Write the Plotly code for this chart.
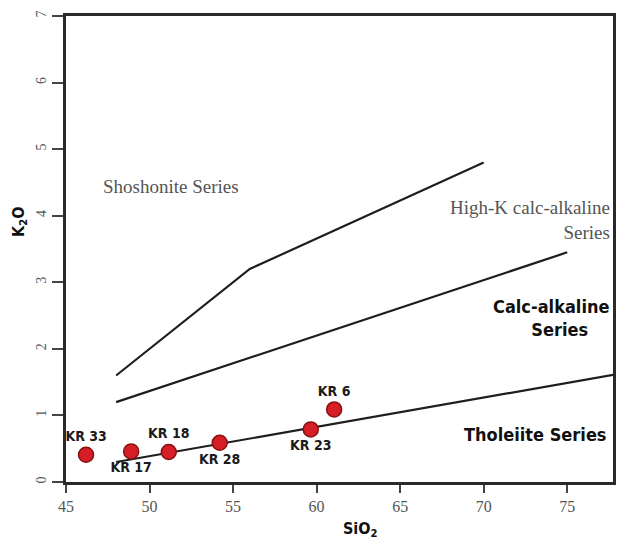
import plotly.graph_objects as go

# Sample analyses (SiO2 vs K2O, wt%)
sample_names = ["KR 33", "KR 17", "KR 18", "KR 28", "KR 23", "KR 6"]
sio2 = [46.2, 48.9, 51.15, 54.2, 59.65, 61.05]
k2o = [0.41, 0.46, 0.45, 0.59, 0.79, 1.09]
label_side = ["top center", "bottom center", "top center", "bottom center", "bottom center", "top center"]

# Series boundary lines
sho_x = [48, 56, 70]
sho_y = [1.6, 3.2, 4.8]
hkca_x = [48, 75]
hkca_y = [1.2, 3.45]
thol_x = [48, 78]
thol_y = [0.3, 1.62]

x_ticks = [45, 50, 55, 60, 65, 70, 75]
y_ticks = [0, 1, 2, 3, 4, 5, 6, 7]

bold_font = "DejaVu Sans Condensed, Liberation Sans Narrow, Arial Narrow, sans-serif"
serif_font = "Liberation Serif, Times New Roman, serif"

fig = go.Figure()
for bx, by in [(sho_x, sho_y), (hkca_x, hkca_y), (thol_x, thol_y)]:
    fig.add_trace(go.Scatter(x=bx, y=by, mode="lines",
                             line=dict(color="#1e1e1e", width=2.2),
                             hoverinfo="skip", showlegend=False))

fig.add_trace(go.Scatter(
    x=sio2, y=k2o, mode="markers+text", text=sample_names,
    textposition=label_side,
    textfont=dict(family=bold_font, size=14, color="#1a1a1a", weight="bold"),
    marker=dict(size=15, color="#d61e26", line=dict(color="#8a1010", width=1.5)),
    showlegend=False, cliponaxis=False))

annotations = [
    dict(x=51.3, y=4.44, text="Shoshonite Series", xanchor="center",
         font=dict(family=serif_font, size=19, color="#555555")),
    dict(x=77.7, y=3.94, text="High-K calc-alkaline<br>Series", xanchor="right",
         align="right", font=dict(family=serif_font, size=19, color="#555555")),
    dict(x=74.0, y=2.46, text="<b>Calc-alkaline</b><br><b>   Series</b>", xanchor="center",
         align="center", font=dict(family=bold_font, size=18, color="#111111")),
    dict(x=73.1, y=0.72, text="<b>Tholeiite Series</b>", xanchor="center",
         font=dict(family=bold_font, size=18, color="#111111")),
    dict(x=62.6, y=-0.102, yref="paper", yanchor="middle",
         text="<b>SiO<sub>2</sub></b>", xanchor="center",
         font=dict(family=bold_font, size=16, color="#111111")),
    dict(x=-0.085, xref="paper", y=3.9, text="<b>K<sub>2</sub>O</b>", textangle=-90,
         xanchor="center", font=dict(family=bold_font, size=16, color="#111111")),
]
for a in annotations:
    a.setdefault("showarrow", False)
    a.setdefault("xref", "x")
    a.setdefault("yref", "y")
fig.update_layout(annotations=annotations)

fig.update_xaxes(range=[45, 77.74], tickvals=x_ticks, ticks="outside", ticklen=8,
                 tickwidth=1.5, tickcolor="#444", showline=True, linewidth=3,
                 linecolor="#2a2a2a", mirror=True, showgrid=False, zeroline=False,
                 tickfont=dict(family=serif_font, size=16, color="#555555"))
fig.update_yaxes(range=[0, 7], tickvals=y_ticks, ticks="outside", ticklen=11,
                 tickwidth=1.5, tickcolor="#444", showline=True, linewidth=3,
                 linecolor="#2a2a2a", mirror=True, showgrid=False, zeroline=False,
                 tickangle=-90,
                 tickfont=dict(family=serif_font, size=14, color="#555555"))

fig.update_layout(width=619, height=542, margin=dict(l=66, r=3, t=16, b=60),
                  plot_bgcolor="white", paper_bgcolor="white")

fig.write_html("out.html")
